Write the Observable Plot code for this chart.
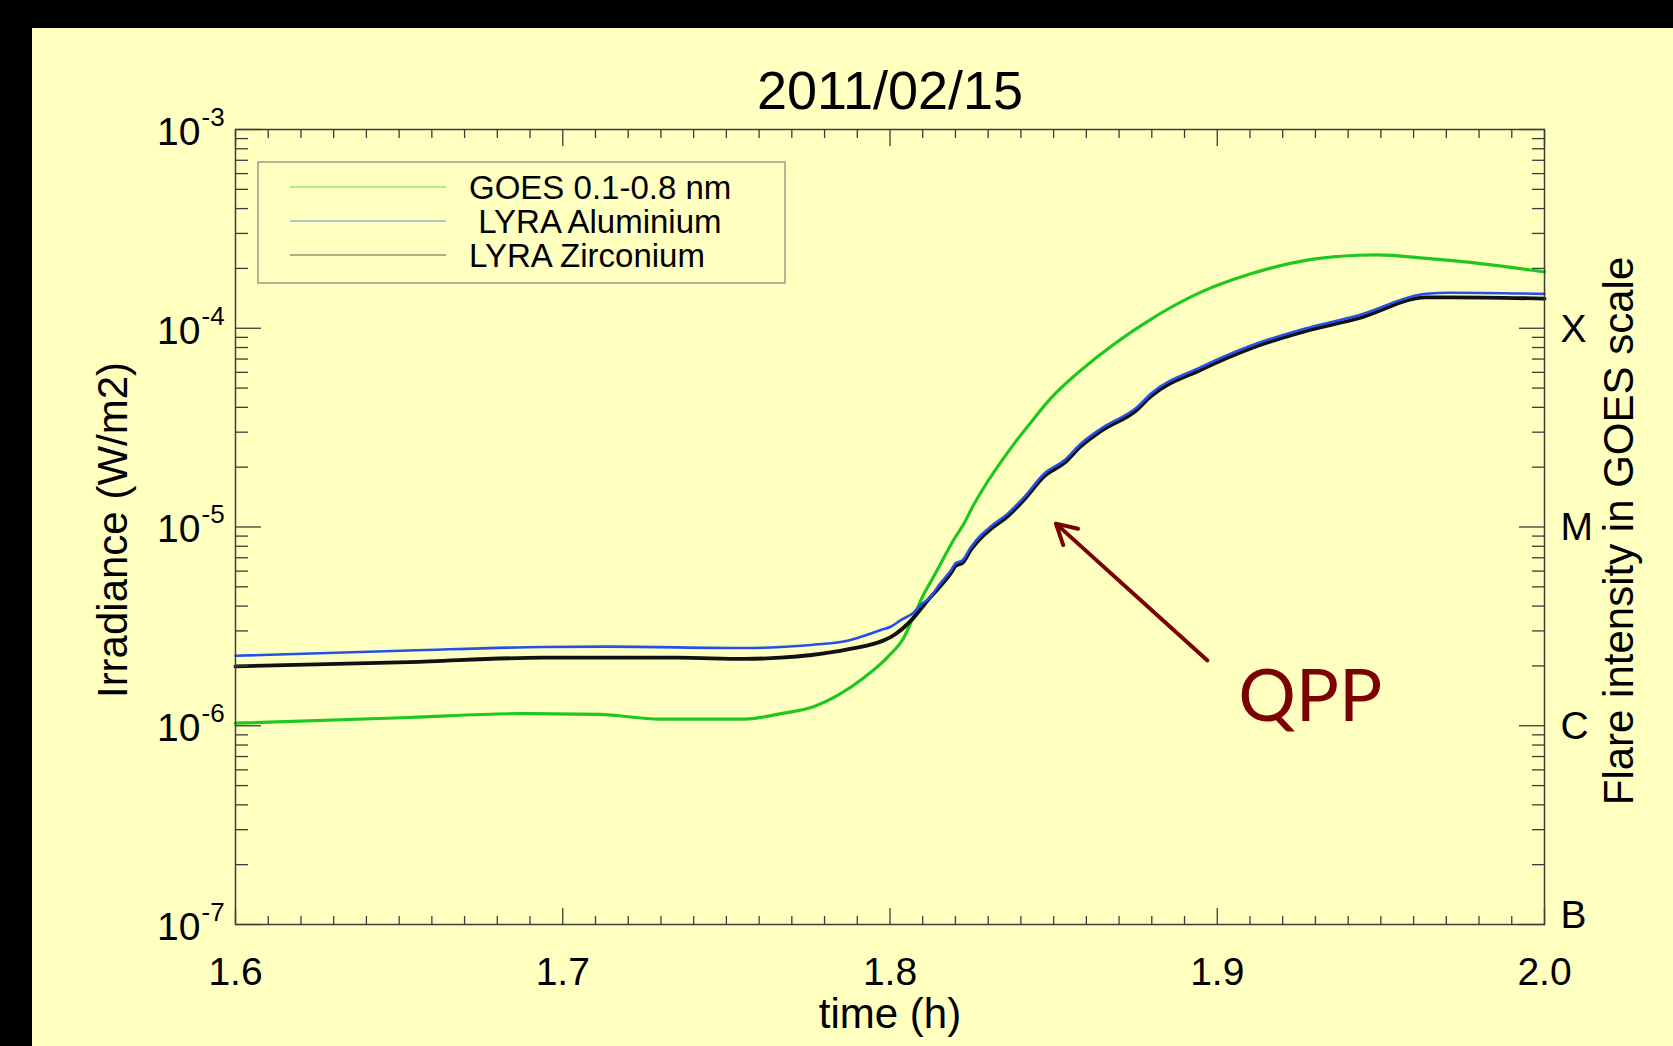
<!DOCTYPE html>
<html>
<head>
<meta charset="utf-8">
<script src="https://cdn.jsdelivr.net/npm/d3@7"></script>
<script src="https://cdn.jsdelivr.net/npm/@observablehq/plot@0.6"></script>
<style>
  html, body { margin: 0; padding: 0; background: #000; width: 1673px; height: 1046px; overflow: hidden; }
  #panel { position: absolute; left: 32px; top: 28px; width: 1641px; height: 1018px; background: #ffffc0; }
  #chart { position: absolute; left: 0; top: 0; }
</style>
</head>
<body>
<div id="panel"></div>
<div id="chart"></div>
<script>
// ---- data ----
const titleText = "2011/02/15";
const xLabel = "time (h)";
const yLabel = "Irradiance (W/m2)";
const y2Label = "Flare intensity in GOES scale";

const goesT = [1.6000, 1.6531, 1.6864, 1.7112, 1.7297, 1.7555, 1.7666, 1.7768, 1.7849, 1.7921, 1.7992, 1.8043, 1.8074, 1.8104, 1.8130, 1.8160, 1.8196, 1.8226, 1.8252, 1.8288, 1.8328, 1.8379, 1.8430, 1.8481, 1.8634, 1.8774, 1.8950, 1.9103, 1.9266, 1.9430, 1.9488, 1.9648, 1.9811, 2.0000];
const goesV = [1.03e-6, 1.10e-6, 1.15e-6, 1.14e-6, 1.08e-6, 1.08e-6, 1.15e-6, 1.25e-6, 1.45e-6, 1.75e-6, 2.21e-6, 2.79e-6, 3.60e-6, 4.61e-6, 5.50e-6, 6.78e-6, 8.70e-6, 1.04e-5, 1.26e-5, 1.59e-5, 2.00e-5, 2.62e-5, 3.35e-5, 4.25e-5, 7.18e-5, 1.05e-4, 1.52e-4, 1.88e-4, 2.19e-4, 2.33e-4, 2.34e-4, 2.24e-4, 2.11e-4, 1.92e-4];

const alT = [1.6000, 1.6531, 1.6940, 1.7144, 1.7555, 1.7666, 1.7760, 1.7870, 1.7972, 1.8002, 1.8033, 1.8074, 1.8094, 1.8125, 1.8145, 1.8186, 1.8201, 1.8221, 1.8247, 1.8277, 1.8308, 1.8359, 1.8410, 1.8471, 1.8532, 1.8583, 1.8644, 1.8755, 1.8797, 1.8950, 1.9104, 1.9267, 1.9430, 1.9638, 1.9716, 2.0000];
const alV = [2.25e-6, 2.39e-6, 2.49e-6, 2.50e-6, 2.46e-6, 2.49e-6, 2.55e-6, 2.68e-6, 3.03e-6, 3.15e-6, 3.40e-6, 3.73e-6, 4.05e-6, 4.45e-6, 4.98e-6, 6.04e-6, 6.58e-6, 6.78e-6, 7.91e-6, 9.06e-6, 1.006e-5, 1.164e-5, 1.413e-5, 1.853e-5, 2.160e-5, 2.623e-5, 3.12e-5, 4.01e-5, 4.68e-5, 6.37e-5, 8.19e-5, 9.95e-5, 1.16e-4, 1.49e-4, 1.51e-4, 1.49e-4];

const zrT = [1.6000, 1.6531, 1.6940, 1.7350, 1.7555, 1.7666, 1.7760, 1.7870, 1.8002, 1.8074, 1.8115, 1.8145, 1.8186, 1.8201, 1.8221, 1.8247, 1.8277, 1.8308, 1.8359, 1.8410, 1.8471, 1.8532, 1.8583, 1.8644, 1.8755, 1.8797, 1.8950, 1.9104, 1.9267, 1.9430, 1.9638, 1.9716, 2.0000];
const zrV = [1.99e-6, 2.09e-6, 2.20e-6, 2.20e-6, 2.17e-6, 2.20e-6, 2.27e-6, 2.42e-6, 2.79e-6, 3.52e-6, 4.27e-6, 4.85e-6, 5.86e-6, 6.38e-6, 6.58e-6, 7.67e-6, 8.79e-6, 9.76e-6, 1.129e-5, 1.371e-5, 1.797e-5, 2.095e-5, 2.544e-5, 3.03e-5, 3.89e-5, 4.54e-5, 6.18e-5, 7.94e-5, 9.65e-5, 1.12e-4, 1.43e-4, 1.43e-4, 1.41e-4];

const seriesNames = ["GOES 0.1-0.8 nm", "\u00a0LYRA Aluminium", "LYRA Zirconium"];
const seriesColors = ["#1ec81e", "#2250e8", "#111111"];

const xMajor = [1.6, 1.7, 1.8, 1.9, 2.0];
const xMinor = d3.range(160, 201).map(d => d / 100).filter(d => Math.abs(d * 10 - Math.round(d * 10)) > 1e-6);
const yMajor = [1e-7, 1e-6, 1e-5, 1e-4, 1e-3];
const yMinor = [];
for (let e = -7; e < -3; e++) for (let m = 2; m <= 9; m++) yMinor.push(m * Math.pow(10, e));
const yExponents = ["-7", "-6", "-5", "-4", "-3"];

const goesClassNames = ["X", "M", "C"];
const goesClassValues = [1e-4, 1e-5, 1e-6];
const goesClassB = ["B"];
const goesClassBValue = [1e-7];

const qppLabel = "QPP";
const qppArrowFrom = {t: 1.8970, v: 2.13e-6};
const qppArrowTo = {t: 1.8507, v: 1.04e-5};
const qppTextAt = {t: 1.9064, v: 1.06e-6};

// ---- build tables ----
const goes = goesT.map((t, i) => ({t, v: goesV[i]}));
const al = alT.map((t, i) => ({t, v: alV[i]}));
const zr = zrT.map((t, i) => ({t, v: zrV[i]}));

const axisColor = "#3c3c3c";
const font = "'Liberation Sans', Arial, Helvetica, sans-serif";

const plot = Plot.plot({
  width: 1673,
  height: 1046,
  marginLeft: 235,
  marginRight: 129,
  marginTop: 129,
  marginBottom: 122,
  style: {background: "transparent", fontFamily: font, color: "#000", overflow: "visible"},
  x: {domain: [1.6, 2.0], axis: null},
  y: {type: "log", domain: [1e-7, 1e-3], axis: null},
  marks: [
    // series
    Plot.line(goes, {x: "t", y: "v", stroke: seriesColors[0], strokeWidth: 3.2, curve: "monotone-x"}),
    Plot.line(zr, {x: "t", y: "v", stroke: seriesColors[2], strokeWidth: 3.8, curve: "monotone-x"}),
    Plot.line(al, {x: "t", y: "v", stroke: seriesColors[1], strokeWidth: 2.6, curve: "monotone-x"}),
    // frame and inward ticks
    Plot.frame({stroke: axisColor, strokeWidth: 1.5}),
    Plot.axisX(xMajor, {anchor: "bottom", tickSize: -16, fill: "none", stroke: axisColor, strokeWidth: 1.3, label: null}),
    Plot.axisX(xMinor, {anchor: "bottom", tickSize: -8, fill: "none", stroke: axisColor, strokeWidth: 1.3, label: null}),
    Plot.axisX(xMajor, {anchor: "top", tickSize: -16, fill: "none", stroke: axisColor, strokeWidth: 1.3, label: null}),
    Plot.axisX(xMinor, {anchor: "top", tickSize: -8, fill: "none", stroke: axisColor, strokeWidth: 1.3, label: null}),
    Plot.axisY(yMajor, {anchor: "left", tickSize: -26, fill: "none", stroke: axisColor, strokeWidth: 1.3, label: null}),
    Plot.axisY(yMinor, {anchor: "left", tickSize: -13, fill: "none", stroke: axisColor, strokeWidth: 1.3, label: null}),
    Plot.axisY(yMajor, {anchor: "right", tickSize: -26, fill: "none", stroke: axisColor, strokeWidth: 1.3, label: null}),
    Plot.axisY(yMinor, {anchor: "right", tickSize: -13, fill: "none", stroke: axisColor, strokeWidth: 1.3, label: null}),
    // x tick labels
    Plot.text(xMajor, {x: d => d, frameAnchor: "bottom", dy: 60, lineAnchor: "bottom", text: d => d.toFixed(1), fontSize: 39, fill: "#000"}),
    // y tick labels 10^e
    Plot.text(yMajor, {y: d => d, frameAnchor: "left", dx: -35, dy: 3, textAnchor: "end", lineAnchor: "middle", text: () => "10", fontSize: 39, fill: "#000"}),
    Plot.text(yMajor, {y: d => d, frameAnchor: "left", dx: -34, dy: -12, textAnchor: "start", lineAnchor: "middle", text: (d, i) => yExponents[i], fontSize: 26, fill: "#000"}),
    // GOES class labels on right
    Plot.text(goesClassNames, {y: (d, i) => goesClassValues[i], frameAnchor: "right", dx: 16, dy: 1, textAnchor: "start", lineAnchor: "middle", text: d => d, fontSize: 39, fill: "#000"}),
    Plot.text(goesClassB, {y: (d, i) => goesClassBValue[i], frameAnchor: "right", dx: 16, dy: -9, textAnchor: "start", lineAnchor: "middle", text: d => d, fontSize: 39, fill: "#000"}),
    // titles
    Plot.text([titleText], {frameAnchor: "top", dy: -21, lineAnchor: "bottom", text: d => d, fontSize: 54, fill: "#000"}),
    Plot.text([xLabel], {frameAnchor: "bottom", dy: 103, lineAnchor: "bottom", text: d => d, fontSize: 42, fill: "#000"}),
    Plot.text([yLabel], {frameAnchor: "left", dx: -109, dy: 3, rotate: -90, textAnchor: "middle", lineAnchor: "bottom", text: d => d, fontSize: 42, fill: "#000"}),
    Plot.text([y2Label], {frameAnchor: "right", dx: 88, dy: 4, rotate: -90, textAnchor: "middle", lineAnchor: "bottom", text: d => d, fontSize: 42, fill: "#000"}),
    // QPP annotation
    Plot.arrow([{from: qppArrowFrom, to: qppArrowTo}], {x1: d => d.from.t, y1: d => d.from.v, x2: d => d.to.t, y2: d => d.to.v, stroke: "#7b0000", strokeWidth: 4, headLength: 8.5, headAngle: 58}),
    Plot.text([qppTextAt], {x: "t", y: "v", text: () => qppLabel, textAnchor: "start", lineAnchor: "bottom", fontSize: 72, fontFamily: "Lato, 'Open Sans', sans-serif", fill: "#7b0000"})
  ]
});

document.getElementById("chart").appendChild(plot);

// ---- legend box (inside plot area, top-left) ----
const svg = d3.select(plot);
const lg = svg.append("g").attr("class", "legend");
lg.append("rect")
  .attr("x", 258).attr("y", 162).attr("width", 527).attr("height", 121)
  .attr("fill", "none").attr("stroke", "#a3a38a").attr("stroke-width", 1.6);
seriesNames.forEach((name, i) => {
  const cy = 187 + i * 34;
  lg.append("line")
    .attr("x1", 290).attr("x2", 446).attr("y1", cy).attr("y2", cy)
    .attr("stroke", seriesColors[i]).attr("stroke-opacity", 0.45).attr("stroke-width", 1.5);
  lg.append("text")
    .attr("x", 469).attr("y", cy + 12)
    .attr("text-anchor", "start")
    .attr("font-size", 33).attr("font-family", font).attr("fill", "#000")
    .text(name);
});
</script>
</body>
</html>
